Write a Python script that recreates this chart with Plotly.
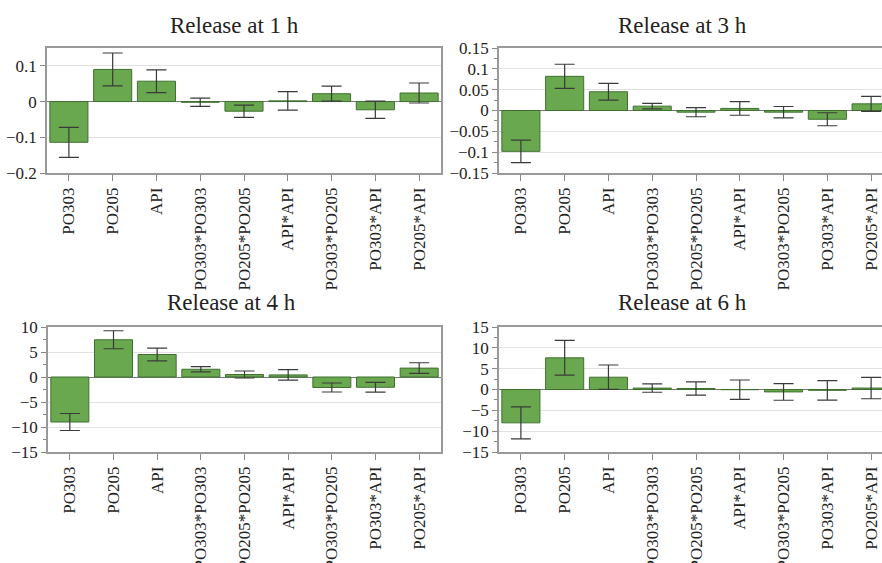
import plotly.graph_objects as go

terms = ["PO303", "PO205", "API", "PO303*PO303", "PO205*PO205",
         "API*API", "PO303*PO205", "PO303*API", "PO205*API"]

# Release at 1 h
v1 = [-0.114, 0.090, 0.057, -0.002, -0.027, 0.002, 0.022, -0.023, 0.024]
e1 = [0.042, 0.046, 0.032, 0.0115, 0.017, 0.026, 0.021, 0.024, 0.028]
# Release at 3 h
v3 = [-0.098, 0.082, 0.045, 0.0105, -0.004, 0.005, -0.004, -0.021, 0.016]
e3 = [0.027, 0.029, 0.020, 0.0068, 0.011, 0.0164, 0.0136, 0.0156, 0.018]
# Release at 4 h
v4 = [-9.0, 7.45, 4.5, 1.55, 0.5, 0.42, -2.1, -2.05, 1.78]
e4 = [1.7, 1.8, 1.27, 0.54, 0.7, 1.04, 0.9, 0.97, 1.07]
# Release at 6 h
v6 = [-8.0, 7.6, 2.95, 0.34, 0.25, -0.05, -0.58, -0.2, 0.35]
e6 = [3.85, 4.17, 2.93, 1.0, 1.6, 2.33, 2.0, 2.33, 2.57]

titles = ["Release at 1 h", "Release at 3 h", "Release at 4 h", "Release at 6 h"]
yranges = [[-0.2, 0.15], [-0.15, 0.15], [-15, 10], [-15, 15]]
ydtick = [0.1, 0.05, 5, 5]
yminor = [None, 0.025, 2.5, 2.5]
series = [(v1, e1), (v3, e3), (v4, e4), (v6, e6)]

W, H = 882, 563
BAR = "#6aa84f"
EDGE = "#3f7030"
FONT = "Liberation Serif, Times New Roman, serif"

# panel boxes in pixels: (left, right, top, bottom)
boxes = [(47, 441, 48, 173), (499, 882, 48, 173),
         (48, 441, 327, 452), (499, 882, 327, 452)]
title_pos = [(234, 25), (682, 25), (231, 302), (682, 302)]

fig = go.Figure()
for i, ((vals, errs), box) in enumerate(zip(series, boxes)):
    n = "" if i == 0 else str(i + 1)
    fig.add_trace(go.Bar(
        x=list(range(len(terms))), y=vals,
        error_y=dict(type="data", array=errs, visible=True,
                     color="#3a3a3a", thickness=1.2, width=10),
        marker=dict(color=BAR, line=dict(color=EDGE, width=1)),
        width=0.87, xaxis="x" + n, yaxis="y" + n, showlegend=False))
    l, r, t, b = box
    right_panel = i % 2 == 1
    cat_w = (441 - 47) / 9.0
    xmax = 8.5 if not right_panel else -0.5 + (r - l) / cat_w
    fig.layout["xaxis" + n] = dict(
        domain=[l / W, r / W], anchor="y" + n, range=[-0.5, xmax],
        automargin=False,
        tickmode="array", tickvals=list(range(len(terms))), ticktext=terms,
        tickangle=-90, ticks="outside", ticklen=6, tickcolor="#888",
        showline=True, linecolor="#999", linewidth=1.5, mirror=True,
        showgrid=False, zeroline=False,
        tickfont=dict(family=FONT, size=17, color="#222"))
    ya = dict(
        domain=[1 - b / H, 1 - t / H], anchor="x" + n,
        range=yranges[i], dtick=ydtick[i], tick0=0, automargin=False,
        ticks="outside", ticklen=5, tickcolor="#888",
        showline=True, linecolor="#999", linewidth=1.5,
        mirror=not right_panel,
        showgrid=True, gridcolor="#e2e2e2", gridwidth=1,
        zeroline=True, zerolinecolor="#777", zerolinewidth=1.2,
        tickfont=dict(family=FONT, size=17, color="#222"))
    if yminor[i] is not None:
        ya["minor"] = dict(dtick=yminor[i], tick0=0, ticks="outside",
                           ticklen=3, tickcolor="#888", showgrid=False)
    fig.layout["yaxis" + n] = ya
    tx, ty = title_pos[i]
    fig.add_annotation(x=tx / W, y=1 - ty / H, xref="paper", yref="paper",
                       text=titles[i], showarrow=False,
                       font=dict(family=FONT, size=23, color="#222"),
                       xanchor="center", yanchor="middle")

fig.update_layout(width=W, height=H, margin=dict(l=0, r=0, t=0, b=0),
                  paper_bgcolor="white", plot_bgcolor="white", bargap=0.13,
                  font=dict(family=FONT))
fig.write_html("out.html")
